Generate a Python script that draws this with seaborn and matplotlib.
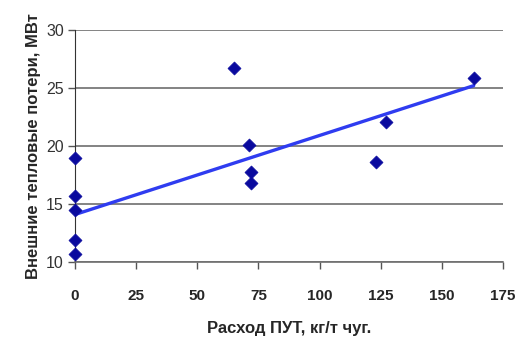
import matplotlib
matplotlib.use("Agg")
import matplotlib.pyplot as plt
import seaborn as sns
import pandas as pd

# ── Data ─────────────────────────────────────────────────────────────────────
put_rate   = [0, 0, 0, 0, 0, 65, 71, 72, 72, 123, 127, 163]
heat_loss  = [19.0, 15.7, 14.5, 11.9, 10.7, 26.7, 20.1, 17.8, 16.8, 18.6, 22.1, 25.9]
trend_x    = [0, 163]
trend_y    = [14.1, 25.2]
x_ticks    = [0, 25, 50, 75, 100, 125, 150, 175]
y_ticks    = [10, 15, 20, 25, 30]

df    = pd.DataFrame({"x": put_rate, "y": heat_loss})
trend = pd.DataFrame({"x": trend_x, "y": trend_y})

sns.set_style("white")
plt.rcParams["font.family"] = ["Liberation Sans", "DejaVu Sans"]

fig = plt.figure(figsize=(5.17, 3.44), dpi=100)
ax = fig.add_axes([0.145, 0.238, 0.828, 0.675])

sns.lineplot(data=trend, x="x", y="y", ax=ax, color="#2f3cf0", linewidth=2.4, zorder=3)
sns.scatterplot(data=df, x="x", y="y", ax=ax, marker="D", s=44,
                color="#0a0a9e", edgecolor="#0a0a9e", linewidth=0.5, zorder=4,
                clip_on=False)

ax.set_xlim(0, 175)
ax.set_ylim(10, 30)
ax.set_xticks(x_ticks)
ax.set_yticks(y_ticks)
ax.yaxis.grid(True, color="#6e6e6e", linewidth=1.2)
ax.set_axisbelow(True)
for side in ["top", "right"]:
    ax.spines[side].set_visible(False)
ax.spines["left"].set_color("#333333")
ax.spines["bottom"].set_color("#6e6e6e")
ax.spines["bottom"].set_linewidth(1.2)
ax.tick_params(axis="both", direction="out", length=5, width=1, color="#555555",
               bottom=True, left=True)
ax.tick_params(axis="x", labelsize=11, pad=14)
ax.tick_params(axis="y", labelsize=11.5, pad=3, labelcolor="#333333")
for lbl in ax.get_xticklabels():
    lbl.set_fontweight("bold")

ax.set_xlabel("Расход ПУТ, кг/т чуг.", fontsize=12, fontweight="bold", labelpad=13)
ax.set_ylabel("Внешние тепловые потери, МВт", fontsize=12, fontweight="bold", labelpad=4)

fig.savefig("out.png", dpi=100)
